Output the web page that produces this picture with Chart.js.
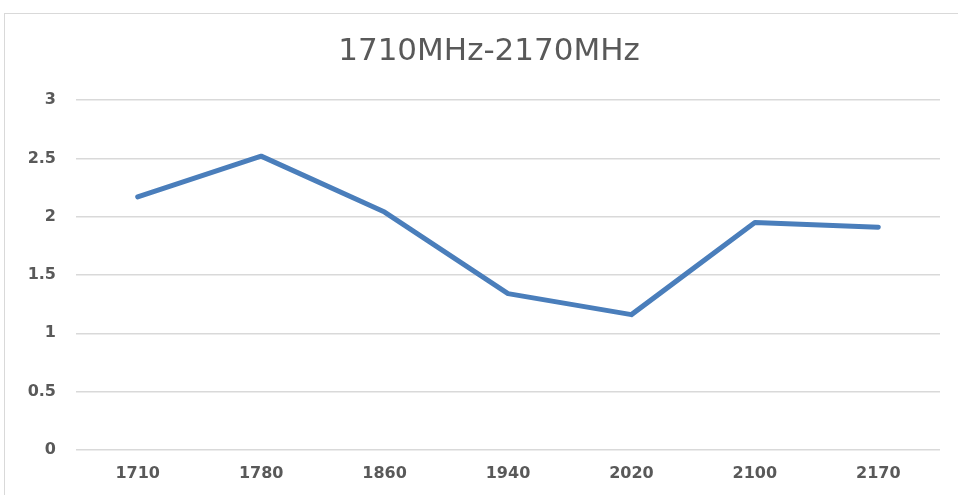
<!DOCTYPE html>
<html>
<head>
<meta charset="utf-8">
<script src="https://cdn.jsdelivr.net/npm/chart.js@4/dist/chart.umd.min.js"></script>
<style>
  html, body { margin: 0; padding: 0; background: #ffffff; overflow: hidden; }
  .frame {
    position: absolute; left: 4px; top: 13px;
    width: 960px; height: 490px;
    border: 1px solid #d9d9d9;
    background: #ffffff;
  }
  canvas { display: block; }
</style>
</head>
<body>
<div class="frame">
  <canvas id="vswrChart" width="953" height="481"></canvas>
</div>
<script>
// datos
const chartTitle = '1710MHz-2170MHz';
const frequencies = ['1710', '1780', '1860', '1940', '2020', '2100', '2170'];
const vswrValues = [2.17, 2.52, 2.04, 1.34, 1.16, 1.95, 1.91];
const yMin = 0;
const yMax = 3;
const yStep = 0.5;

const textColor = '#595959';
const gridColor = '#d9d9d9';
const lineColor = '#4a7ebb';

// el titulo del original esta algo desplazado a la derecha
const titleShift = {
    id: 'titleShift',
    afterLayout(chart) {
        if (chart.titleBlock) chart.titleBlock.left += 33;
    }
};

const ctx = document.getElementById('vswrChart').getContext('2d');

new Chart(ctx, {
    type: 'line',
    data: {
        labels: frequencies,
        datasets: [{
            label: chartTitle,
            data: vswrValues,
            borderColor: lineColor,
            backgroundColor: lineColor,
            borderWidth: 5,
            borderCapStyle: 'round',
            borderJoinStyle: 'round',
            pointRadius: 0,
            tension: 0,
            fill: false
        }]
    },
    options: {
        responsive: false,
        animation: false,
        layout: {
            padding: { left: 0, right: 18, top: 0, bottom: -2 }
        },
        plugins: {
            legend: { display: false },
            tooltip: { enabled: false },
            title: {
                display: true,
                text: chartTitle,
                color: textColor,
                font: { family: 'DejaVu Sans', size: 31, weight: 'normal' },
                padding: { top: 19, bottom: 30 }
            }
        },
        scales: {
            x: {
                offset: true,
                grid: { display: false, drawTicks: false },
                border: { display: false },
                ticks: {
                    color: textColor,
                    font: { family: 'DejaVu Sans', size: 16, weight: 'bold' },
                    padding: 14,
                    maxRotation: 0
                }
            },
            y: {
                min: yMin,
                max: yMax,
                afterFit: (scale) => { scale.width = 71; },
                grid: { color: gridColor, lineWidth: 1.5, drawTicks: false },
                border: { display: false },
                ticks: {
                    stepSize: yStep,
                    color: textColor,
                    font: { family: 'DejaVu Sans', size: 16, weight: 'bold' },
                    padding: 20,
                    callback: (v) => String(v)
                }
            }
        }
    },
    plugins: [titleShift]
});
</script>
</body>
</html>
